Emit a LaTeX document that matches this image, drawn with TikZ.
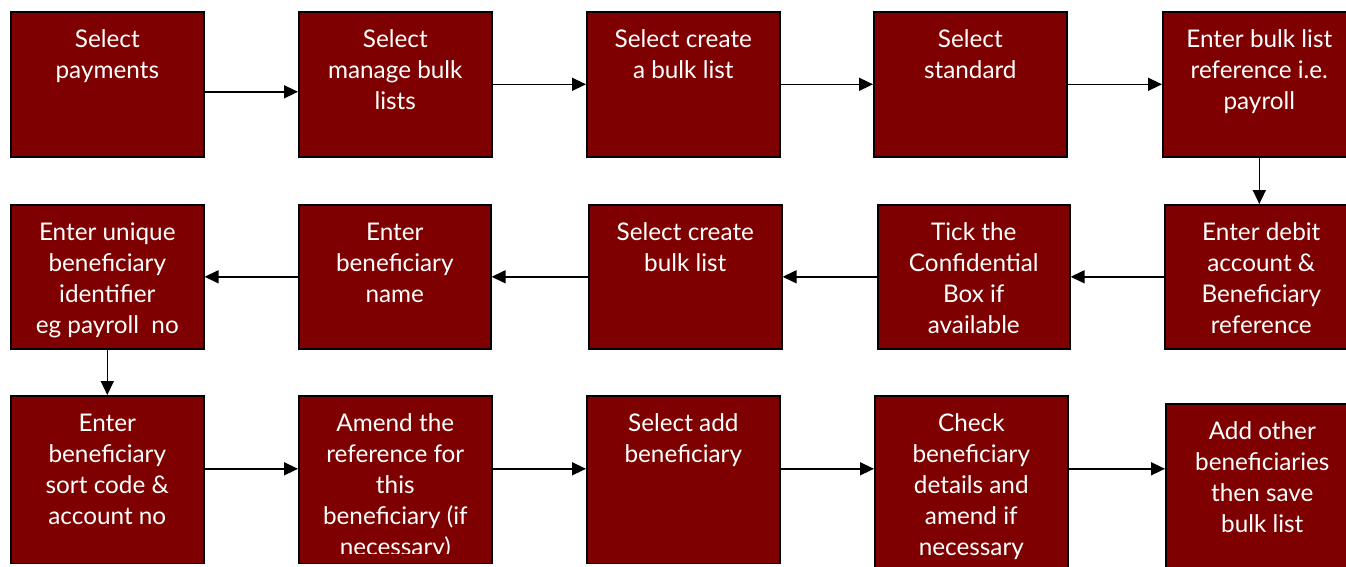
\documentclass[tikz,border=0pt]{standalone}
\usepackage{fontspec}
\setmainfont{Lato}
\usetikzlibrary{arrows.meta}
\definecolor{boxred}{HTML}{7F0000}
\tikzset{
  box/.style={draw=black, line width=1.6pt, fill=boxred, anchor=north west, inner sep=0pt, minimum width=193pt},
  txt/.style={anchor=base, align=center, text=white, inner sep=0pt, font=\fontsize{24.3}{31}\selectfont, yshift={-31pt*(#1-1)}},
  arr/.style={-{Triangle[length=14pt,width=13pt]}, line width=1.5pt, draw=black}
}
\begin{document}
\begin{tikzpicture}[x=1pt,y=-1pt]
\useasboundingbox (0,0) rectangle (1346,566);
\clip (0,0) rectangle (1346,566);
% row 1
\node[box, minimum height=145pt] (b1) at (10,11) {};
\node[box, minimum height=145pt] (b2) at (298,11) {};
\node[box, minimum height=145pt] (b3) at (586,11) {};
\node[box, minimum height=145pt] (b4) at (873,11) {};
\node[box, minimum height=145pt] (b5) at (1162,11) {};
% row 2
\node[box, minimum height=144pt] (c1) at (10,204) {};
\node[box, minimum height=144pt, minimum width=192pt] (c2) at (298,204) {};
\node[box, minimum height=144pt] (c3) at (588,204) {};
\node[box, minimum height=144pt, minimum width=192pt] (c4) at (877,204) {};
\node[box, minimum height=144pt] (c5) at (1164,204) {};
% row 3
\node[box, minimum height=167.5pt] (d1) at (10,395) {};
\node[box, minimum height=167.5pt] (d2) at (298,395) {};
\node[box, minimum height=167.5pt] (d3) at (586,395) {};
\node[box, minimum height=200pt] (d4) at (874,395) {};
\node[box, minimum height=200pt] (d5) at (1165,403) {};
% texts
\node[txt=2] (tb1) at ([yshift=-36pt]b1.north) {Select\\payments};
\node[txt=3] (tb2) at ([yshift=-36pt]b2.north) {Select\\manage bulk\\lists};
\node[txt=2] (tb3) at ([yshift=-36pt]b3.north) {Select create\\a bulk list};
\node[txt=2] (tb4) at ([yshift=-36pt]b4.north) {Select\\standard};
\node[txt=3] (tb5) at ([yshift=-36pt]b5.north) {Enter bulk list\\reference i.e.\\payroll};
\node[txt=4] (tc1) at ([yshift=-36pt]c1.north) {Enter unique\\beneficiary\\identifier\\eg payroll~~no};
\node[txt=3] (tc2) at ([yshift=-36pt]c2.north) {Enter\\beneficiary\\name};
\node[txt=2] (tc3) at ([yshift=-36pt]c3.north) {Select create\\bulk list};
\node[txt=4] (tc4) at ([yshift=-36pt]c4.north) {Tick the\\Confidential\\Box if\\available};
\node[txt=4] (tc5) at ([yshift=-36pt]c5.north) {Enter debit\\account \&\\Beneficiary\\reference};
\node[txt=4] (td1) at ([yshift=-36pt]d1.north) {Enter\\beneficiary\\sort code \&\\account no};
\begin{scope}
\clip (298,395) rectangle (491,553);
\node[txt=5] (td2) at ([yshift=-36pt]d2.north) {Amend the\\reference for\\this\\beneficiary (if\\necessary)};
\end{scope}
\node[txt=2] (td3) at ([yshift=-36pt]d3.north) {Select add\\beneficiary};
\node[txt=5] (td4) at ([yshift=-36pt]d4.north) {Check\\beneficiary\\details and\\amend if\\necessary};
\node[txt=4] (td5) at ([yshift=-36pt]d5.north) {Add other\\beneficiaries\\then save\\bulk list};
% arrows row 1
\draw[arr] ([yshift=-7.5pt]b1.east) -- ([yshift=-7.5pt]b1.east -| b2.west);
\draw[arr] (b2.east) -- (b2.east -| b3.west);
\draw[arr] (b3.east) -- (b3.east -| b4.west);
\draw[arr] (b4.east) -- (b4.east -| b5.west);
\draw[arr] (b5.south) -- (b5.south |- c5.north);
% arrows row 2
\draw[arr] (c5.west) -- (c5.west -| c4.east);
\draw[arr] (c4.west) -- (c4.west -| c3.east);
\draw[arr] (c3.west) -- (c3.west -| c2.east);
\draw[arr] (c2.west) -- (c2.west -| c1.east);
\draw[arr] (c1.south) -- (c1.south |- d1.north);
% arrows row 3
\draw[arr] ([yshift=10.75pt]d1.east) -- ([yshift=10.75pt]d1.east -| d2.west);
\draw[arr] ([yshift=10.75pt]d2.east) -- ([yshift=10.75pt]d2.east -| d3.west);
\draw[arr] ([yshift=10.75pt]d3.east) -- ([yshift=10.75pt]d3.east -| d4.west);
\draw[arr] ([yshift=27pt]d4.east) -- ([yshift=27pt]d4.east -| d5.west);
\end{tikzpicture}
\end{document}
